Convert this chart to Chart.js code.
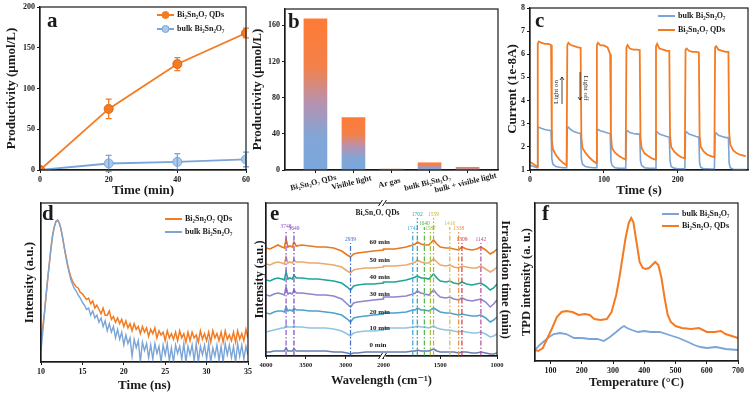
<!DOCTYPE html>
<html>
<head>
<meta charset="utf-8">
<script src="https://cdn.jsdelivr.net/npm/chart.js@4.4.0/dist/chart.umd.min.js"></script>
<style>
  html, body { margin: 0; padding: 0; background: #fff; }
  #fig { position: relative; width: 753px; height: 397px; overflow: hidden; background: #fff; }
  #fig canvas { position: absolute; }
</style>
</head>
<body>
<div id="fig"></div>
<script>
// ---------- data ----------
// a: productivity vs time
const aTime = [0, 20, 40, 60];
const aQds = [0, 75, 130, 168];
const aQdsErr = [0, 12, 8, 6];
const aBulk = [0, 8, 10, 13];
const aBulkErr = [0, 10, 10, 9];
const aTicksX = [0, 20, 40, 60];
const aTicksY = [0, 50, 100, 150, 200];

// b: productivity by condition
const bLabels = ['Bi₂Sn₂O₇ QDs', 'Visible light', 'Ar gas', 'bulk Bi₂Sn₂O₇', 'bulk + visible light'];
const bValues = [167, 58, 1, 8, 3];
const bTicksY = [0, 40, 80, 120, 160];

// c: photocurrent
const cTime = [0, 5, 9.5, 10.5, 12, 15, 20, 25, 28.5, 29.5, 31, 35, 40, 45, 49.5,
  50.5, 52, 55, 60, 65, 68.5, 69.5, 71, 75, 80, 85, 89.5,
  90.5, 92, 95, 100, 105, 108.5, 109.5, 111, 115, 120, 125, 129.5,
  130.5, 132, 135, 140, 145, 148.5, 149.5, 151, 155, 160, 165, 169.5,
  170.5, 172, 175, 180, 185, 188.5, 189.5, 191, 195, 200, 205, 209.5,
  210.5, 212, 215, 220, 225, 228.5, 229.5, 231, 235, 240, 245, 249.5,
  250.5, 252, 255, 260, 265, 268.5, 269.5, 271, 275, 280, 285, 292];
const cQds = [1.35, 1.25, 1.15, 6.45, 6.55, 6.5, 6.45, 6.45, 6.4, 2.3, 1.9, 1.65, 1.45, 1.3, 1.2,
  6.4, 6.5, 6.4, 6.35, 6.3, 6.28, 2.4, 1.95, 1.75, 1.55, 1.4, 1.3,
  6.4, 6.5, 6.4, 6.38, 6.3, 6.0, 2.5, 1.95, 1.75, 1.62, 1.52, 1.45,
  6.3, 6.4, 6.25, 6.2, 6.2, 6.18, 2.4, 1.95, 1.72, 1.6, 1.5, 1.45,
  6.35, 6.45, 6.25, 6.2, 6.15, 6.15, 2.5, 2.0, 1.8, 1.65, 1.55, 1.5,
  6.2, 6.25, 6.15, 6.1, 6.1, 6.08, 2.5, 2.0, 1.8, 1.66, 1.6, 1.55,
  6.3, 6.35, 6.2, 6.15, 6.1, 6.1, 2.6, 2.1, 1.85, 1.72, 1.65, 1.6];
const cBulk = [1.2, 1.15, 1.1, 2.8, 2.85, 2.8, 2.75, 2.72, 2.7, 1.5, 1.25, 1.15, 1.12, 1.1, 1.1,
  2.8, 2.85, 2.75, 2.65, 2.6, 2.58, 1.5, 1.25, 1.15, 1.12, 1.1, 1.1,
  2.7, 2.75, 2.7, 2.65, 2.6, 2.58, 1.4, 1.2, 1.1, 1.08, 1.07, 1.07,
  2.65, 2.7, 2.62, 2.58, 2.55, 2.55, 1.4, 1.2, 1.1, 1.08, 1.07, 1.07,
  2.6, 2.65, 2.55, 2.5, 2.45, 2.42, 1.4, 1.15, 1.08, 1.05, 1.05, 1.05,
  2.6, 2.65, 2.55, 2.5, 2.45, 2.42, 1.3, 1.12, 1.05, 1.05, 1.04, 1.04,
  2.55, 2.6, 2.5, 2.45, 2.4, 2.4, 1.3, 1.1, 1.03, 1.02, 1.02, 1.02];
const cTicksX = [0, 100, 200];
const cTicksY = [1, 2, 3, 4, 5, 6, 7, 8];

// d: PL decay (head sampled by hand, tail read every 0.25 ns from 14 ns)
const dHeadTime = [10, 10.2, 10.4, 10.6, 10.8, 11, 11.2, 11.4, 11.6, 11.8, 12, 12.2, 12.4, 12.6, 12.8, 13, 13.2, 13.4, 13.6, 13.8];
const dHeadQds = [0.18, 0.24, 0.34, 0.46, 0.58, 0.69, 0.8, 0.89, 0.95, 0.99, 1.0, 0.98, 0.94, 0.88, 0.81, 0.75, 0.69, 0.64, 0.6, 0.57];
const dHeadBulk = [0.08, 0.2, 0.33, 0.46, 0.58, 0.69, 0.8, 0.89, 0.95, 0.99, 1.0, 0.98, 0.94, 0.88, 0.81, 0.74, 0.68, 0.63, 0.58, 0.55];
const dTailStart = 14, dTailStep = 0.25;
const dTailQds = [0.55, 0.53, 0.52, 0.49, 0.48, 0.46, 0.44, 0.45, 0.41, 0.43, 0.38, 0.40,
  0.37, 0.34, 0.38, 0.33, 0.33, 0.36, 0.30, 0.32, 0.28, 0.31, 0.27, 0.30,
  0.25, 0.29, 0.24, 0.27, 0.22, 0.27, 0.23, 0.25, 0.20, 0.25, 0.21, 0.24,
  0.18, 0.23, 0.20, 0.24, 0.17, 0.22, 0.19, 0.21, 0.15, 0.22, 0.17, 0.20,
  0.16, 0.21, 0.15, 0.22, 0.17, 0.20, 0.14, 0.21, 0.15, 0.21, 0.17, 0.19,
  0.14, 0.22, 0.16, 0.20, 0.15, 0.21, 0.14, 0.22, 0.17, 0.20, 0.15, 0.21,
  0.14, 0.22, 0.16, 0.19, 0.15, 0.21, 0.14, 0.22, 0.16, 0.20, 0.15, 0.23, 0.17];
const dTailBulk = [0.52, 0.50, 0.47, 0.45, 0.42, 0.40, 0.37, 0.38, 0.33, 0.36, 0.31, 0.33,
  0.28, 0.31, 0.25, 0.29, 0.22, 0.27, 0.21, 0.25, 0.17, 0.23, 0.16, 0.21,
  0.12, 0.19, 0.13, 0.17, 0.04, 0.16, 0.10, 0.15, 0.00, 0.14, 0.08, 0.13,
  0.03, 0.12, 0.02, 0.13, 0.06, 0.11, 0.00, 0.12, 0.05, 0.13, 0.01, 0.10,
  0.00, 0.12, 0.06, 0.11, 0.02, 0.13, 0.00, 0.11, 0.05, 0.12, 0.01, 0.13,
  0.00, 0.11, 0.05, 0.12, 0.02, 0.13, 0.00, 0.10, 0.04, 0.12, 0.01, 0.11,
  0.00, 0.13, 0.05, 0.12, 0.03, 0.11, 0.00, 0.13, 0.04, 0.12, 0.02, 0.11, 0.05];
const dTicksX = [10, 15, 20, 25, 30, 35];

// e: in-situ IR spectra (offset, a.u.)
const irWave = [4000, 3950, 3900, 3850, 3800, 3770, 3748, 3725, 3700, 3670, 3649, 3620, 3550, 3450, 3350,
  3250, 3150, 3050, 2980, 2939, 2900, 2850, 2750, 2650, 2525,
  2000, 1900, 1800, 1742, 1720, 1702, 1670, 1640, 1600, 1559, 1530, 1500, 1450, 1416, 1380,
  1338, 1309, 1270, 1220, 1180, 1142, 1100, 1060, 1030, 1000];
const ir0 = [4, 4, 5, 5, 5, 5, 8, 5, 5, 5, 7, 5, 5, 5, 5, 5, 4, 4, 3, 2, 3, 3, 4, 4, 4,
  4, 4, 4, 5, 5, 6, 5, 5, 5, 7, 5, 4, 4, 4, 4, 3, 4, 4, 3, 3, 4, 3, 2, 2, 3];
const ir10 = [24, 25, 26, 27, 28, 28, 31, 29, 29, 29, 30, 29, 29, 28, 28, 28, 27, 25, 22, 20, 23, 24, 25, 25, 26,
  28, 28, 28, 29, 29, 30, 29, 29, 28, 30, 28, 27, 26, 26, 25, 24, 25, 24, 23, 23, 24, 22, 19, 20, 22];
const ir20 = [43, 42, 44, 45, 45, 44, 49, 45, 46, 45, 48, 46, 46, 45, 45, 44, 43, 41, 37, 34, 38, 39, 40, 41, 42,
  43, 43, 44, 46, 46, 48, 46, 46, 45, 48, 46, 44, 43, 43, 42, 41, 42, 41, 40, 40, 41, 38, 34, 36, 39];
const ir30 = [61, 60, 62, 63, 62, 61, 69, 62, 63, 62, 66, 63, 63, 62, 61, 61, 60, 57, 52, 49, 53, 54, 55, 56, 57,
  59, 59, 60, 62, 63, 65, 63, 62, 61, 66, 62, 59, 58, 59, 57, 56, 58, 56, 55, 56, 57, 54, 49, 52, 56];
const ir40 = [76, 75, 77, 78, 77, 76, 84, 77, 78, 77, 81, 78, 78, 77, 77, 76, 75, 73, 69, 66, 70, 71, 72, 72, 73,
  74, 74, 76, 78, 79, 80, 78, 78, 77, 82, 78, 75, 74, 75, 73, 72, 74, 72, 71, 72, 73, 70, 66, 68, 72];
const ir50 = [92, 91, 93, 94, 93, 92, 99, 93, 94, 93, 96, 94, 94, 93, 93, 92, 91, 89, 85, 83, 86, 87, 88, 88, 89,
  90, 90, 91, 93, 94, 96, 94, 93, 93, 97, 94, 91, 90, 91, 89, 88, 90, 89, 88, 88, 90, 87, 84, 86, 89];
const ir60 = [108, 107, 109, 111, 109, 108, 117, 109, 110, 109, 114, 110, 111, 110, 109, 109, 108, 105, 101, 99, 102, 103, 104, 105, 106,
  107, 107, 109, 111, 112, 114, 112, 111, 111, 116, 112, 109, 108, 108, 107, 106, 109, 107, 106, 107, 109, 106, 102, 104, 107];
const irTimes = ['0 min', '10 min', '20 min', '30 min', '40 min', '50 min', '60 min'];
const irTimeY = [11, 28, 44, 62, 79, 96, 114];
const irColors = ['#6a7db3', '#8fc4e2', '#4ea2c8', '#8c86cc', '#1fa698', '#eaa96e', '#e8781f'];
const irPeaks = [3748, 3649, 2939, 1742, 1702, 1640, 1587, 1559, 1416, 1338, 1309, 1142];
const irPeakTop = [126, 124, 113, 124, 138, 129, 124, 138, 129, 124, 113, 113];
const irPeakColors = ['#8e55c8', '#7a44c4', '#3f6fc6', '#3ea0da', '#27a89b', '#4cb84c', '#9fc040', '#c9b020', '#dab846', '#e8904a', '#d8383c', '#b84a9c'];
const irTickWave = [4000, 3500, 3000, 2000, 1500, 1000];

// f: TPD
const fTempQds = [50, 60, 75, 90, 105, 120, 135, 150, 170, 190, 210, 225, 240, 260, 280, 295, 310, 320, 330, 340,
  350, 358, 365, 375, 385, 395, 405, 415, 425, 435, 445, 455, 465, 475, 485, 500, 520, 550, 575, 600,
  625, 645, 660, 680, 700];
const fQds = [11, 10, 13, 23, 33, 44, 49, 50, 49, 46, 47, 46, 42, 41, 42, 49, 66, 83, 103, 123,
  138, 143, 139, 119, 99, 93, 92, 93, 96, 99, 96, 83, 63, 46, 39, 35, 33, 32, 33, 29,
  29, 30, 27, 25, 23];
const fTempBulk = [50, 65, 80, 95, 110, 130, 150, 175, 200, 225, 250, 270, 290, 310, 325, 335, 345, 360, 380, 400,
  420, 450, 480, 510, 540, 560, 580, 600, 630, 660, 700];
const fBulk = [11, 16, 20, 24, 27, 28, 27, 23, 23, 22, 22, 20, 24, 29, 33, 35, 33, 31, 29, 30,
  29, 29, 26, 23, 19, 16, 14, 13, 14, 12, 11];
const fTicksX = [100, 200, 300, 400, 500, 600, 700];

// ---------- styling helpers ----------
const SERIF = '"Liberation Serif", "Times New Roman", "DejaVu Serif", serif';
const INK = '#1a1a1a';
const ORANGE = '#f47b22';
const BLUE = '#7aa5d6';
Chart.defaults.font.family = SERIF;

const fig = document.getElementById('fig');

function merge(a, b) {
  const out = Object.assign({}, a);
  for (const k in b) {
    const v = b[k];
    if (v && typeof v === 'object' && !Array.isArray(v) && out[k] && typeof out[k] === 'object') out[k] = merge(out[k], v);
    else out[k] = v;
  }
  return out;
}

function axis(over) {
  return merge({
    type: 'linear',
    offset: false,
    grid: { display: true, offset: false, drawOnChartArea: false, drawTicks: true, tickLength: 3, color: INK },
    border: { display: true, color: INK, width: 1.2 },
    ticks: { font: { family: SERIF, size: 8, weight: 'bold' }, color: INK, padding: 2, maxRotation: 0, autoSkip: false },
    title: { display: false, font: { family: SERIF, size: 13, weight: 'bold' }, color: INK }
  }, over);
}

const fixTicks = list => s => { s.ticks = list.map(v => ({ value: v })); };
const pts = (xs, ys) => xs.map((x, i) => ({ x: x, y: ys[i] }));
const line = (data, color, w) => ({ data: data, borderColor: color, backgroundColor: color, borderWidth: w, pointRadius: 0, tension: 0 });

function decor(spec) {
  return {
    id: 'decor',
    afterDatasetsDraw(chart) { if (spec.over) spec.over(chart, chart.ctx); },
    afterDraw(chart) {
      const ctx = chart.ctx, a = chart.chartArea;
      ctx.save();
      ctx.strokeStyle = INK; ctx.lineWidth = 1.2;
      ctx.strokeRect(a.left, a.top, a.right - a.left, a.bottom - a.top);
      if (spec.after) spec.after(chart, ctx);
      ctx.translate(-spec.box.x, -spec.box.y);
      ctx.fillStyle = INK; ctx.textAlign = 'left'; ctx.textBaseline = 'alphabetic';
      ctx.font = 'bold 21px ' + SERIF;
      ctx.fillText(spec.letter[0], spec.letter[1], spec.letter[2]);
      ctx.font = 'bold 8px ' + SERIF; ctx.textBaseline = 'middle';
      (spec.legend || []).forEach(it => {
        ctx.strokeStyle = it.color; ctx.lineWidth = 2;
        ctx.beginPath(); ctx.moveTo(it.x, it.y); ctx.lineTo(it.x + 17, it.y); ctx.stroke();
        if (it.fill) {
          ctx.fillStyle = it.fill; ctx.lineWidth = 1;
          ctx.beginPath(); ctx.arc(it.x + 8.5, it.y, 3.5, 0, Math.PI * 2); ctx.fill(); ctx.stroke();
        }
        ctx.fillStyle = INK; ctx.fillText(it.text, it.x + 20, it.y);
      });
      if (spec.page) spec.page(ctx);
      ctx.restore();
    }
  };
}

function makePanel(box, plot, config, spec) {
  const cv = document.createElement('canvas');
  cv.width = box.w; cv.height = box.h;
  Object.assign(cv.style, { left: box.x + 'px', top: box.y + 'px', width: box.w + 'px', height: box.h + 'px' });
  fig.appendChild(cv);
  const o = config.options, sc = o.scales;
  const rightW = box.x + box.w - plot.x1;
  o.responsive = false; o.animation = false; o.devicePixelRatio = 1; o.events = [];
  o.plugins = { legend: { display: false }, tooltip: { enabled: false } };
  o.layout = { padding: { top: plot.y0 - box.y, right: sc.y2 ? 0 : rightW, left: 0, bottom: 0 } };
  sc.x.afterFit = s => { s.height = box.y + box.h - plot.y1; };
  sc.y.afterFit = s => { s.width = plot.x0 - box.x; };
  if (sc.y2) sc.y2.afterFit = s => { s.width = rightW; };
  spec.box = box;
  config.plugins = [decor(spec)];
  return new Chart(cv, config);
}

// ---------- a ----------
makePanel({ x: 0, y: 0, w: 252, h: 200 }, { x0: 40, x1: 246, y0: 7, y1: 170 }, {
  type: 'line',
  data: { datasets: [
    { data: pts(aTime, aQds), errors: aQdsErr, borderColor: ORANGE, backgroundColor: ORANGE, pointBorderColor: '#d9651a', pointRadius: 4.5, pointBorderWidth: 1, borderWidth: 1.8 },
    { data: pts(aTime, aBulk), errors: aBulkErr, borderColor: BLUE, backgroundColor: '#a9c8ea', pointBorderColor: BLUE, pointRadius: 4.5, pointBorderWidth: 1, borderWidth: 1.8 }
  ] },
  options: { scales: {
    x: axis({ min: 0, max: 60, afterBuildTicks: fixTicks(aTicksX), title: { display: true, text: 'Time (min)', padding: { bottom: 2 } } }),
    y: axis({ min: 0, max: 200, afterBuildTicks: fixTicks(aTicksY), title: { display: true, text: 'Productivity (μmol/L)', padding: { top: 4 } } })
  } }
}, {
  letter: ['a', 47, 27],
  legend: [
    { x: 157, y: 15, color: ORANGE, fill: ORANGE, text: 'Bi₂Sn₂O₇ QDs' },
    { x: 157, y: 29, color: BLUE, fill: '#a9c8ea', text: 'bulk Bi₂Sn₂O₇' }
  ],
  over(chart, ctx) {
    const ys = chart.scales.y;
    chart.data.datasets.forEach((ds, d) => {
      const meta = chart.getDatasetMeta(d);
      ctx.save(); ctx.strokeStyle = ds.borderColor; ctx.lineWidth = 1.3;
      meta.data.forEach((pt, i) => {
        const e = ds.errors[i]; if (!e) return;
        const v = ds.data[i].y;
        const y1 = ys.getPixelForValue(v + e), y2 = ys.getPixelForValue(v - e);
        ctx.beginPath();
        ctx.moveTo(pt.x, y1); ctx.lineTo(pt.x, y2);
        ctx.moveTo(pt.x - 3, y1); ctx.lineTo(pt.x + 3, y1);
        ctx.moveTo(pt.x - 3, y2); ctx.lineTo(pt.x + 3, y2);
        ctx.stroke();
      });
      ctx.restore();
    });
  }
});

// ---------- b ----------
makePanel({ x: 250, y: 0, w: 262, h: 200 }, { x0: 285, x1: 498, y0: 9, y1: 170 }, {
  type: 'bar',
  data: { datasets: [{
    data: bValues.map((v, i) => ({ x: i, y: v })),
    barThickness: 23,
    backgroundColor: c => {
      const ch = c.chart, ys = ch.scales.y;
      if (!ch.chartArea || !ys || c.type !== 'data') return ORANGE;
      const top = ys.getPixelForValue(bValues[c.dataIndex]), bot = ys.getPixelForValue(0);
      if (bot - top < 2) return '#c8825a';
      const g = ch.ctx.createLinearGradient(0, bot, 0, top);
      g.addColorStop(0, '#7aa8dc'); g.addColorStop(0.22, '#82a6d7');
      g.addColorStop(0.45, '#b792ae'); g.addColorStop(0.68, '#f2814a'); g.addColorStop(1, '#ff7b36');
      return g;
    }
  }] },
  options: { scales: {
    x: axis({ min: -0.8, max: 4.8, afterBuildTicks: fixTicks([0, 1, 2, 3, 4]), ticks: { display: false } }),
    y: axis({ min: 0, max: 178, afterBuildTicks: fixTicks(bTicksY), title: { display: true, text: 'Productivity (μmol/L)', padding: { top: 0 } } })
  } }
}, {
  letter: ['b', 288, 28],
  over(chart, ctx) {
    const xs = chart.scales.x;
    ctx.save();
    ctx.fillStyle = INK; ctx.font = 'bold 8px ' + SERIF; ctx.textAlign = 'center'; ctx.textBaseline = 'middle';
    bLabels.forEach((t, i) => {
      ctx.save();
      ctx.translate(xs.getPixelForValue(i) - 2, 183);
      ctx.rotate(-0.24);
      ctx.fillText(t, 0, 0);
      ctx.restore();
    });
    ctx.restore();
  }
});

// ---------- c ----------
makePanel({ x: 500, y: 0, w: 253, h: 200 }, { x0: 530, x1: 748, y0: 8, y1: 170 }, {
  type: 'line',
  data: { datasets: [line(pts(cTime, cQds), ORANGE, 1.8), line(pts(cTime, cBulk), BLUE, 1.6)] },
  options: { scales: {
    x: axis({ min: 0, max: 295, afterBuildTicks: fixTicks(cTicksX), title: { display: true, text: 'Time (s)', padding: { bottom: 2 } } }),
    y: axis({ min: 1, max: 8, afterBuildTicks: fixTicks(cTicksY), title: { display: true, text: 'Current (1e-8A)', padding: { top: 5 } } })
  } }
}, {
  letter: ['c', 535, 27],
  legend: [
    { x: 658, y: 16, color: BLUE, text: 'bulk Bi₂Sn₂O₇' },
    { x: 658, y: 30, color: ORANGE, text: 'Bi₂Sn₂O₇ QDs' }
  ],
  page(ctx) {
    ctx.fillStyle = INK; ctx.strokeStyle = INK; ctx.lineWidth = 0.8;
    ctx.font = '7px ' + SERIF; ctx.textAlign = 'center'; ctx.textBaseline = 'middle';
    ctx.save(); ctx.translate(556, 92); ctx.rotate(-Math.PI / 2); ctx.fillText('Light on', 0, 0); ctx.restore();
    ctx.save(); ctx.translate(586, 88); ctx.rotate(Math.PI / 2); ctx.fillText('Light off', 0, 0); ctx.restore();
    ctx.beginPath();
    ctx.moveTo(562, 104); ctx.lineTo(562, 77); ctx.moveTo(560, 80); ctx.lineTo(562, 77); ctx.lineTo(564, 80);
    ctx.moveTo(580, 72); ctx.lineTo(580, 100); ctx.moveTo(578, 97); ctx.lineTo(580, 100); ctx.lineTo(582, 97);
    ctx.stroke();
  }
});

// ---------- d ----------
const dQdsPts = pts(dHeadTime, dHeadQds).concat(dTailQds.map((v, i) => ({ x: dTailStart + i * dTailStep, y: v })));
const dBulkPts = pts(dHeadTime, dHeadBulk).concat(dTailBulk.map((v, i) => ({ x: dTailStart + i * dTailStep, y: v })));
makePanel({ x: 0, y: 195, w: 255, h: 202 }, { x0: 41, x1: 248, y0: 203, y1: 362 }, {
  type: 'line',
  data: { datasets: [line(dBulkPts, BLUE, 1.4), line(dQdsPts, ORANGE, 1.5)] },
  options: { scales: {
    x: axis({ min: 10, max: 35, afterBuildTicks: fixTicks(dTicksX), title: { display: true, text: 'Time (ns)', padding: { bottom: 4 } } }),
    y: axis({ min: 0, max: 1.12, grid: { drawTicks: false }, ticks: { display: false }, title: { display: true, text: 'Intensity (a.u.)', padding: { top: 22 } } })
  } }
}, {
  letter: ['d', 42, 220],
  legend: [
    { x: 165, y: 219, color: ORANGE, text: 'Bi₂Sn₂O₇ QDs' },
    { x: 165, y: 232, color: BLUE, text: 'bulk Bi₂Sn₂O₇' }
  ]
});

// ---------- e ----------
const K1 = 0.08, K2 = 0.114, UBREAK = (4000 - 2525) * K1;
const toU = w => (w >= 2525 ? (4000 - w) * K1 : UBREAK + (2000 - w) * K2);
const irSeries = [ir0, ir10, ir20, ir30, ir40, ir50, ir60];
const irPeakSets = irPeaks.map((p, i) => Object.assign(line([{ x: toU(p), y: 0 }, { x: toU(p), y: irPeakTop[i] }], irPeakColors[i], 1.2), { borderDash: [5, 2, 1.5, 2] }));
const irSpecSets = irSeries.map((s, k) => line(irWave.map((w, i) => ({ x: toU(w), y: s[i] })), irColors[k], 1.6)).reverse();
makePanel({ x: 250, y: 195, w: 265, h: 202 }, { x0: 266, x1: 497, y0: 203, y1: 356 }, {
  type: 'line',
  data: { datasets: irPeakSets.concat(irSpecSets) },
  options: { scales: {
    x: axis({ min: 0, max: UBREAK + 1000 * K2,
      afterBuildTicks: s => { s.ticks = irTickWave.map(w => ({ value: toU(w) })); },
      ticks: { font: { size: 6.5 }, callback: (v, i) => irTickWave[i] },
      title: { display: true, text: 'Wavelength (cm⁻¹)', font: { size: 12.5 }, padding: { bottom: 9 } } }),
    y: axis({ min: 0, max: 153, grid: { drawTicks: false }, ticks: { display: false }, title: { display: true, text: 'Intensity (a.u.)', font: { size: 12.5 }, padding: { top: 2 } } }),
    y2: axis({ position: 'right', min: 0, max: 153, grid: { display: false }, border: { display: false }, ticks: { display: false },
      title: { display: true, text: 'Irradiation time (min)', font: { size: 12.5 }, padding: { top: 2 } } })
  } }
}, {
  letter: ['e', 270, 220],
  over(chart, ctx) {
    const xs = chart.scales.x, ys = chart.scales.y;
    ctx.save();
    ctx.textAlign = 'center'; ctx.textBaseline = 'bottom'; ctx.font = '5.5px ' + SERIF;
    irPeaks.forEach((p, i) => {
      ctx.fillStyle = irPeakColors[i];
      ctx.fillText(String(p), xs.getPixelForValue(toU(p)), ys.getPixelForValue(irPeakTop[i]) - 1);
    });
    ctx.fillStyle = INK; ctx.font = 'bold 7px ' + SERIF; ctx.textAlign = 'left'; ctx.textBaseline = 'middle';
    irTimes.forEach((t, i) => ctx.fillText(t, xs.getPixelForValue(toU(2700)), ys.getPixelForValue(irTimeY[i])));
    ctx.font = 'bold 7.5px ' + SERIF; ctx.textAlign = 'center';
    ctx.fillText('Bi₂Sn₂O₇ QDs', xs.getPixelForValue(toU(2600)), ys.getPixelForValue(143));
    ctx.restore();
  },
  after(chart, ctx) {
    const a = chart.chartArea, bx = chart.scales.x.getPixelForValue(UBREAK);
    [a.top, a.bottom].forEach(y => {
      ctx.fillStyle = '#fff'; ctx.fillRect(bx - 3, y - 2, 5, 4);
      ctx.strokeStyle = INK; ctx.lineWidth = 1;
      ctx.beginPath();
      ctx.moveTo(bx - 5, y + 3); ctx.lineTo(bx - 1, y - 3);
      ctx.moveTo(bx - 1, y + 3); ctx.lineTo(bx + 3, y - 3);
      ctx.stroke();
    });
  }
});

// ---------- f ----------
makePanel({ x: 510, y: 195, w: 243, h: 202 }, { x0: 535, x1: 738, y0: 203, y1: 361 }, {
  type: 'line',
  data: { datasets: [line(pts(fTempQds, fQds), ORANGE, 2), line(pts(fTempBulk, fBulk), BLUE, 1.8)] },
  options: { scales: {
    x: axis({ min: 50, max: 700, afterBuildTicks: fixTicks(fTicksX), title: { display: true, text: 'Temperature (°C)', font: { size: 12.5 }, padding: { bottom: 7 } } }),
    y: axis({ min: 0, max: 158, grid: { drawTicks: false }, ticks: { display: false }, title: { display: true, text: 'TPD intensity (a. u.)', font: { size: 12.5 }, padding: { top: 9 } } })
  } }
}, {
  letter: ['f', 542, 220],
  legend: [
    { x: 662, y: 214, color: BLUE, text: 'bulk Bi₂Sn₂O₇' },
    { x: 662, y: 226, color: ORANGE, text: 'Bi₂Sn₂O₇ QDs' }
  ]
});
</script>
</body>
</html>
